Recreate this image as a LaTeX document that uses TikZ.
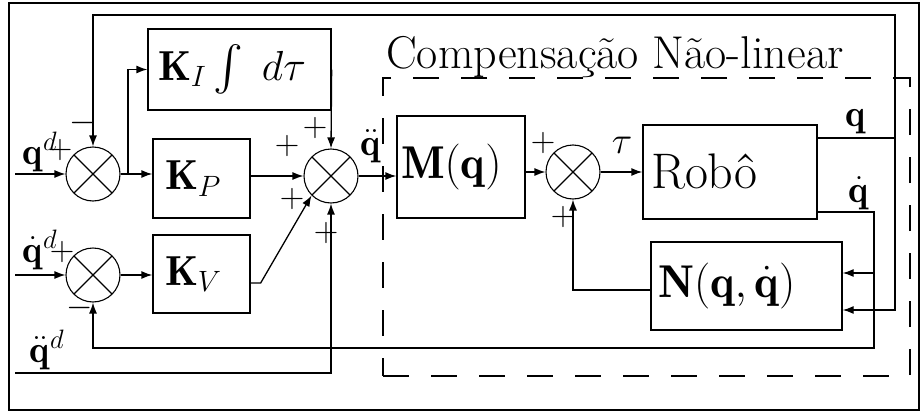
\RequirePackage{fix-cm}
\documentclass[tikz,border=0pt]{standalone}
\usepackage{amsmath}
\usepackage{graphicx}
\usepackage{fontspec}
\usetikzlibrary{arrows.meta,calc}
\begin{document}
\begin{tikzpicture}[x=1pt,y=-1pt,
  >={Latex[length=11pt,width=8pt]},
  wire/.style={line width=1.3pt},
  sumnode/.style={circle, draw, line width=1.1pt, minimum size=54pt, inner sep=0pt,
    path picture={\draw[line width=1.1pt] (path picture bounding box.north west) -- (path picture bounding box.south east)
      (path picture bounding box.north east) -- (path picture bounding box.south west);}},
  blk/.style={draw, line width=1.3pt, inner ysep=0pt, align=left},
  sig/.style={inner sep=0pt, font=\fontsize{38}{40}\selectfont},
  sgn/.style={inner sep=0pt, font=\fontsize{34}{36}\selectfont},
]
\useasboundingbox (0,0) rectangle (920,412);
\draw[line width=1.6pt] (9,3) rectangle (919,410);

% dashed compensation region
\node[draw, line width=1.3pt, dash pattern=on 26pt off 22pt, minimum width=527pt, minimum height=298pt, inner sep=0pt] (comp) at (646.5,227) {};
\node[anchor=base west, inner sep=0pt, font=\fontsize{46}{48}\selectfont] (title) at (386,68) {Compensação Não-linear};

% summing junctions
\node[sumnode] (s1) at (93,174) {};
\node[sumnode] (s2) at (93,275) {};
\node[sumnode] (s3) at (331,176) {};
\node[sumnode] (s4) at (573,172) {};

% blocks
\node[blk, minimum height=81pt, inner xsep=10pt, text width=163pt, font=\fontsize{42}{44}\selectfont] (KI) at (239.5,69.5) {$\mathbf{K}_I\,\vcenter{\hbox{\scalebox{1.8}{$\int$}}}\;\,d\tau$};
\node[blk, minimum height=79pt, inner xsep=12pt, text width=73pt, font=\fontsize{42}{44}\selectfont] (KP) at (201.5,178.5) {$\mathbf{K}_P$};
\node[blk, minimum height=78pt, inner xsep=12pt, text width=73pt, font=\fontsize{42}{44}\selectfont] (KV) at (201.5,274) {$\mathbf{K}_V$};
\node[blk, minimum height=102pt, inner xsep=4pt, text width=120pt, font=\fontsize{46}{48}\selectfont] (M) at (461,167) {$\mathbf{M}(\mathbf{q})$};
\node[blk, minimum height=94pt, inner xsep=8pt, text width=158pt, font=\fontsize{50}{52}\selectfont] (R) at (730,172) {Robô};
\node[blk, minimum height=88pt, inner xsep=7pt, text width=177pt, font=\fontsize{46}{48}\selectfont] (N) at (746.5,286) {$\mathbf{N}(\mathbf{q},\dot{\mathbf{q}})$};

% free ends and bends
\coordinate (qin) at (15,174);
\coordinate (qdin) at (15,275);
\coordinate (qddin) at (15,373);
\coordinate (br) at (128,174);
\coordinate (qr) at (895,138);
\coordinate (qtop) at (895,15);
\coordinate (qdr) at (874,212);
\coordinate (fb) at (874,348);
\coordinate (n1) at ([yshift=13pt]N.east);
\coordinate (n2) at ([yshift=-24pt]N.east);
\coordinate (kvo) at ([yshift=-9pt]KV.east);

% connectors
\draw[wire,->] (qin) -- (s1.west);
\draw[wire,->] (qdin) -- (s2.west);
\draw[wire,->] (qddin) -| (s3.south);
\draw[wire,->] (s1.east) -- (s1.east -| KP.west);
\draw[wire,->] (br) |- (KI.west);
\draw[wire,->] (s2.east) -- (s2.east -| KV.west);
\draw[wire,->] (KI.east) -- (s3.north);
\draw[wire,->] (s3.west -| KP.east) -- (s3.west);
\draw[wire,->] (kvo) -- ++(10,0) -- (s3.south west);
\draw[wire,->] (s3.east) -- (s3.east -| M.west);
\draw[wire,->] (s4.west -| M.east) -- (s4.west);
\draw[wire,->] (s4.east) -- (s4.east -| R.west);
\draw[wire,->] ([yshift=-4pt]N.west) -| (s4.south);
\draw[wire,->] (qr -| R.east) -- (qr) |- (qtop -| s1) -- (s1.north);
\draw[wire,->] (qr) |- (n2);
\draw[wire,->] (qdr -| R.east) -- (qdr) |- (fb -| s2) -- (s2.south);
\draw[wire,->] (qdr |- n1) -- (n1);

% signal labels
\node[sig] (lqd) at (40,152) {$\mathbf{q}^d$};
\node[sig] (lqdd) at (40,250) {$\dot{\mathbf{q}}^d$};
\node[sig] (lqddd) at (47,350) {$\ddot{\mathbf{q}}^d$};
\node[sig] (lacc) at (371,146) {$\ddot{\mathbf{q}}$};
\node[sig] (ltau) at (622,145) {$\tau$};
\node[sig] (lq) at (856,122) {$\mathbf{q}$};
\node[sig] (lqdot) at (859,193) {$\dot{\mathbf{q}}$};

% signs
\node[sgn] (p1) at (60,150) {$+$};
\node[sgn] (m1) at (83,123) {$-$};
\node[sgn] (p2) at (62,252) {$+$};
\node[sgn] (m2) at (80,308) {$-$};
\node[sgn] (p3a) at (315,128) {$+$};
\node[sgn] (p3b) at (287,146) {$+$};
\node[sgn] (p3c) at (292,199) {$+$};
\node[sgn] (p3d) at (326,233) {$+$};
\node[sgn] (p4a) at (543,143) {$+$};
\node[sgn] (p4b) at (563,217) {$+$};
\end{tikzpicture}
\end{document}
